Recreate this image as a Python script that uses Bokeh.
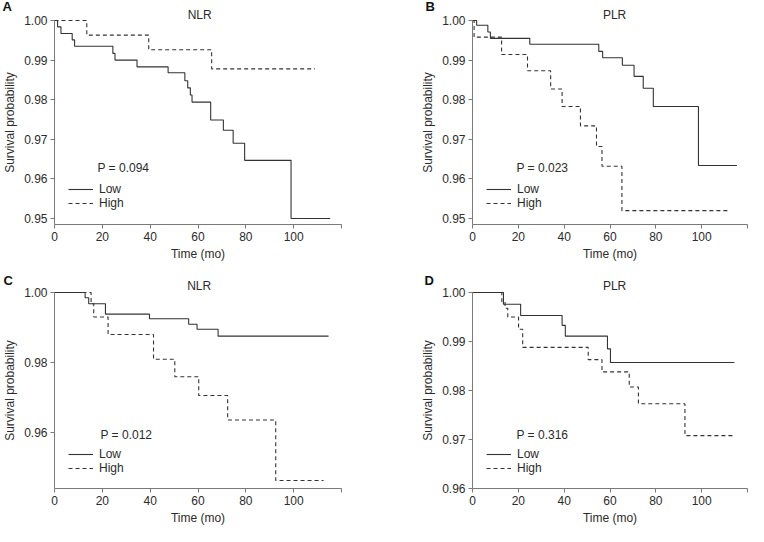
from bokeh.plotting import figure
from bokeh.models import Range1d, FixedTicker, Label, Legend, LegendItem, PrintfTickFormatter
from bokeh.layouts import column, row
from bokeh.embed import file_html
from bokeh.resources import INLINE

FONT = "Liberation Sans"
TXT = "#2b2b2b"
AX = "#7a7a7a"
LINE = "#333333"

# ---------------- data ----------------
x_ticks = [0, 20, 40, 60, 80, 100, 120]
x_max = 120

# Panel A: NLR
a_low_t = [0, 1.3, 2.7, 7.4, 8.4, 24.4, 25.3, 34.5, 47.5, 54.5, 55.7, 56.8, 57.5, 65.3, 70.6, 74.7, 79.5, 98.9, 115.3]
a_low_s = [1.0, 0.9984, 0.9967, 0.9951, 0.9935, 0.9917, 0.9900, 0.9883, 0.9868, 0.9848, 0.9830, 0.9812, 0.9794, 0.9749, 0.9723, 0.9690, 0.9647, 0.9500, 0.9500]
a_high_t = [0, 13.5, 39.4, 65.7, 108.9]
a_high_s = [1.0, 0.9963, 0.9926, 0.9878, 0.9878]
a_p = "P = 0.094"
a_yticks = [0.95, 0.96, 0.97, 0.98, 0.99, 1.00]
a_ylim = (0.9485, 1.0)

# Panel B: PLR
b_low_t = [0, 1.8, 6.7, 7.8, 25.0, 55.1, 56.8, 65.4, 70.5, 74.5, 78.9, 98.6, 115.4]
b_low_s = [1.0, 0.9988, 0.9971, 0.9955, 0.9940, 0.9922, 0.9906, 0.9887, 0.9859, 0.9829, 0.9783, 0.9634, 0.9634]
b_high_t = [0, 0.7, 12.7, 24.0, 34.1, 39.1, 47.1, 54.1, 56.5, 65.2, 111.2]
b_high_s = [1.0, 0.9958, 0.9914, 0.9873, 0.9827, 0.9783, 0.9734, 0.9682, 0.9632, 0.9520, 0.9520]
b_p = "P = 0.023"
b_yticks = [0.95, 0.96, 0.97, 0.98, 0.99, 1.00]
b_ylim = (0.9485, 1.0)

# Panel C: NLR
c_low_t = [0, 12.8, 14.3, 21.3, 39.7, 56.1, 59.6, 68.4, 114.6]
c_low_s = [1.0, 0.9985, 0.9968, 0.9938, 0.9925, 0.9909, 0.9895, 0.9875, 0.9875]
c_high_t = [0, 15.3, 16.4, 22.4, 41.4, 50.3, 60.3, 72.4, 92.5, 112.5]
c_high_s = [1.0, 0.9968, 0.9930, 0.9880, 0.9809, 0.9759, 0.9705, 0.9635, 0.9462, 0.9462]
c_p = "P = 0.012"
c_yticks = [0.96, 0.98, 1.00]
c_ylim = (0.9439, 1.0)

# Panel D: PLR
d_low_t = [0, 13.5, 21.0, 39.1, 40.5, 58.9, 60.2, 114.3]
d_low_s = [1.0, 0.9976, 0.9953, 0.9933, 0.9911, 0.9885, 0.9857, 0.9857]
d_high_t = [0, 12.8, 14.2, 15.4, 20.1, 21.9, 50.5, 56.5, 68.4, 72.4, 92.7, 114.3]
d_high_s = [1.0, 0.9981, 0.9968, 0.9950, 0.9925, 0.9888, 0.9863, 0.9838, 0.9807, 0.9773, 0.9708, 0.9708]
d_p = "P = 0.316"
d_yticks = [0.96, 0.97, 0.98, 0.99, 1.00]
d_ylim = (0.96, 1.0)


def make_panel(letter, title, low_t, low_s, high_t, high_s, pval, yticks, ylim, geo):
    W, H = geo["W"], geo["H"]
    x0, x1 = geo["x0"], geo["x1"]          # pixel of t=0 and t=x_max (from left)
    yt, yb = geo["yt"], geo["yb"]          # pixel of 1.00 and of ylim[0] (from top)
    sx = (x1 - x0) / x_max
    sy = (yb - yt) / (ylim[1] - ylim[0])
    xr = Range1d(-x0 / sx, x_max + (W - x1) / sx)
    yr = Range1d(ylim[0] - (H - yb) / sy, ylim[1] + yt / sy)

    p = figure(width=W, height=H, output_backend="svg", toolbar_location=None,
               x_range=xr, y_range=yr, min_border=0,
               min_border_left=0, min_border_right=0, min_border_top=0, min_border_bottom=0)
    p.outline_line_color = None
    p.xgrid.visible = False
    p.ygrid.visible = False
    p.background_fill_color = "white"
    p.border_fill_color = "white"

    rl = p.step(low_t, low_s, mode="after", line_color=LINE, line_width=1.1)
    rh = p.step(high_t, high_s, mode="after", line_color=LINE, line_width=1.1, line_dash="4 3")

    for ax in (p.xaxis[0], p.yaxis[0]):
        ax.axis_line_color = AX
        ax.major_tick_line_color = AX
        ax.minor_tick_line_color = None
        ax.major_tick_out = 4
        ax.major_tick_in = 0
        ax.major_label_standoff = 3
        ax.axis_label_standoff = 4
        ax.major_label_text_font = FONT
        ax.major_label_text_font_size = "12px"
        ax.major_label_text_color = TXT
        ax.axis_label_text_font = FONT
        ax.axis_label_text_font_size = "12px"
        ax.axis_label_text_font_style = "normal"
        ax.axis_label_text_color = TXT

    xa = p.xaxis[0]
    xa.ticker = FixedTicker(ticks=x_ticks)
    xa.bounds = (0, x_max)
    xa.fixed_location = ylim[0]
    xa.major_label_overrides = {120: ""}
    xa.axis_label = "Time (mo)"
    xa.axis_label_standoff = 3

    ya = p.yaxis[0]
    ya.ticker = FixedTicker(ticks=yticks)
    ya.formatter = PrintfTickFormatter(format="%.2f")
    ya.bounds = ylim
    ya.fixed_location = 0
    ya.axis_label = "Survival probability"

    p.add_layout(Label(x=geo["letter"][0], y=geo["letter"][1], x_units="screen", y_units="screen",
                       text=letter, text_font=FONT, text_font_size="13px", text_font_style="bold",
                       text_color="#111111", text_baseline="middle", text_align="left"))
    p.add_layout(Label(x=geo["title"][0], y=geo["title"][1], x_units="data", y_units="screen",
                       text=title, text_font=FONT, text_font_size="12px", text_color=TXT,
                       text_baseline="middle", text_align="center"))
    p.add_layout(Label(x=geo["pval"][0], y=geo["pval"][1], x_units="screen", y_units="screen",
                       text=pval, text_font=FONT, text_font_size="12px", text_color=TXT,
                       text_baseline="middle", text_align="left"))

    leg = Legend(items=[LegendItem(label="Low", renderers=[rl]),
                        LegendItem(label="High", renderers=[rh])],
                 location=geo["legend"], orientation="vertical",
                 border_line_color=None, background_fill_alpha=0,
                 padding=0, margin=0, spacing=0,
                 glyph_width=25, glyph_height=14, label_height=14, label_standoff=6,
                 label_text_font=FONT, label_text_font_size="12px", label_text_color=TXT)
    p.add_layout(leg)
    return p


geo_a = dict(W=380, H=262, x0=54, x1=341, yt=20, yb=224,
             letter=(2, 256), title=(60.7, 248), pval=(97, 95), legend=(68, 52))
geo_b = dict(W=368, H=262, x0=92, x1=367, yt=20, yb=224,
             letter=(45, 256), title=(62.0, 248), pval=(136, 95), legend=(106, 52))
geo_c = dict(W=380, H=264, x0=54, x1=341, yt=30, yb=226,
             letter=(3, 246), title=(60.5, 241), pval=(100, 92), legend=(68, 51))
geo_d = dict(W=368, H=264, x0=92, x1=367, yt=30, yb=226,
             letter=(44, 246), title=(62.0, 241), pval=(136, 92), legend=(106, 51))

pa = make_panel("A", "NLR", a_low_t, a_low_s, a_high_t, a_high_s, a_p, a_yticks, a_ylim, geo_a)
pb = make_panel("B", "PLR", b_low_t, b_low_s, b_high_t, b_high_s, b_p, b_yticks, b_ylim, geo_b)
pc = make_panel("C", "NLR", c_low_t, c_low_s, c_high_t, c_high_s, c_p, c_yticks, c_ylim, geo_c)
pd = make_panel("D", "PLR", d_low_t, d_low_s, d_high_t, d_high_s, d_p, d_yticks, d_ylim, geo_d)

layout = column(row(pa, pb), row(pc, pd))
open("out.html", "w").write(file_html(layout, INLINE))
